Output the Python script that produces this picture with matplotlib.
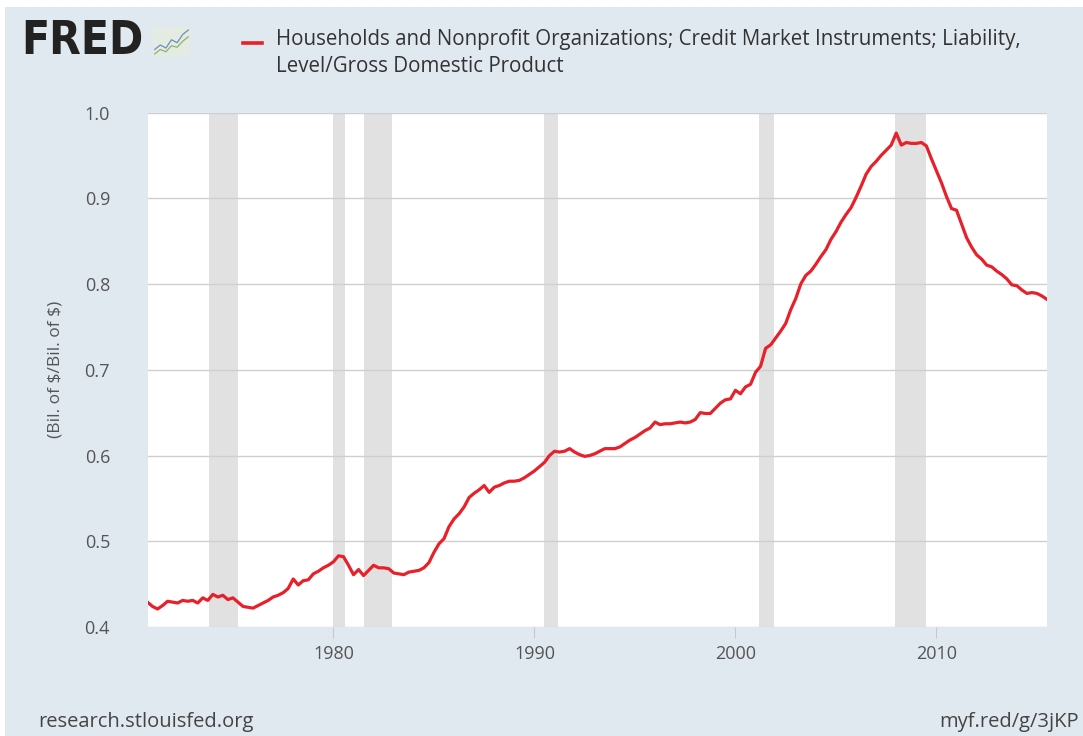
import matplotlib
matplotlib.use("Agg")
import matplotlib.pyplot as plt
from matplotlib.patches import Rectangle
import numpy as np

# --------------------------------------------------------------------------- #
# Data (quarterly), first point 1970 Q4
# --------------------------------------------------------------------------- #
start_year = 1970.75
ratio = [
    0.429,
    0.424, 0.421, 0.425, 0.430,   # 1971
    0.429, 0.428, 0.431, 0.430,   # 1972
    0.431, 0.428, 0.434, 0.431,   # 1973
    0.438, 0.435, 0.437, 0.432,   # 1974
    0.434, 0.429, 0.424, 0.423,   # 1975
    0.422, 0.425, 0.428, 0.431,   # 1976
    0.435, 0.437, 0.440, 0.445,   # 1977
    0.456, 0.449, 0.454, 0.455,   # 1978
    0.462, 0.465, 0.469, 0.472,   # 1979
    0.476, 0.483, 0.482, 0.472,   # 1980
    0.461, 0.467, 0.460, 0.466,   # 1981
    0.472, 0.469, 0.469, 0.468,   # 1982
    0.463, 0.462, 0.461, 0.464,   # 1983
    0.465, 0.466, 0.469, 0.475,   # 1984
    0.487, 0.497, 0.503, 0.517,   # 1985
    0.526, 0.532, 0.540, 0.551,   # 1986
    0.556, 0.560, 0.565, 0.557,   # 1987
    0.563, 0.565, 0.568, 0.570,   # 1988
    0.570, 0.571, 0.574, 0.578,   # 1989
    0.582, 0.587, 0.592, 0.600,   # 1990
    0.605, 0.604, 0.605, 0.608,   # 1991
    0.604, 0.601, 0.599, 0.600,   # 1992
    0.602, 0.605, 0.608, 0.608,   # 1993
    0.608, 0.610, 0.614, 0.618,   # 1994
    0.621, 0.625, 0.629, 0.632,   # 1995
    0.639, 0.636, 0.637, 0.637,   # 1996
    0.638, 0.639, 0.638, 0.639,   # 1997
    0.642, 0.650, 0.649, 0.649,   # 1998
    0.655, 0.661, 0.665, 0.666,   # 1999
    0.676, 0.672, 0.680, 0.683,   # 2000
    0.697, 0.704, 0.725, 0.729,   # 2001
    0.737, 0.745, 0.754, 0.770,   # 2002
    0.783, 0.800, 0.810, 0.815,   # 2003
    0.823, 0.832, 0.840, 0.852,   # 2004
    0.861, 0.872, 0.881, 0.889,   # 2005
    0.901, 0.914, 0.928, 0.937,   # 2006
    0.943, 0.950, 0.956, 0.962,   # 2007
    0.976, 0.962, 0.965, 0.964,   # 2008
    0.964, 0.965, 0.961, 0.946,   # 2009
    0.932, 0.918, 0.902, 0.888,   # 2010
    0.886, 0.870, 0.854, 0.843,   # 2011
    0.834, 0.829, 0.822, 0.820,   # 2012
    0.815, 0.811, 0.806, 0.799,   # 2013
    0.798, 0.793, 0.789, 0.790,   # 2014
    0.789, 0.786, 0.782,          # 2015
]
years = start_year + 0.25 * np.arange(len(ratio))

# NBER recessions (start, end) in decimal years
rec_start = [1973.83, 1980.0, 1981.5, 1990.5, 2001.17, 2007.92]
rec_end = [1975.25, 1980.58, 1982.92, 1991.17, 2001.92, 2009.5]

x_ticks = [1980, 1990, 2000, 2010]
y_ticks = [0.4, 0.5, 0.6, 0.7, 0.8, 0.9, 1.0]

series_label = ("Households and Nonprofit Organizations; Credit Market Instruments; Liability,\n"
                "Level/Gross Domestic Product")
units_label = r"(Bil. of \$/Bil. of \$)"

# --------------------------------------------------------------------------- #
# Figure
# --------------------------------------------------------------------------- #
BG = "#e1e9f0"
W, H = 1083, 736
plt.rcParams["font.family"] = ["Open Sans", "DejaVu Sans"]

fig = plt.figure(figsize=(W / 100, H / 100), dpi=100, facecolor="white")
# blue-grey panel with the thin white border top/left
fig.patches.append(Rectangle((5 / W, 0), 1, 1 - 7 / H, transform=fig.transFigure,
                             facecolor=BG, edgecolor="none", zorder=-10))

ax = fig.add_axes([147.5 / W, (H - 627) / H, (1047 - 147.5) / W, (627 - 112.5) / H])
ax.set_facecolor("white")

for s, e in zip(rec_start, rec_end):
    ax.axvspan(s, e, color="#e1e1e1", lw=0, zorder=1)

ax.plot(years, ratio, color="#e8202a", lw=2.3, zorder=3)

ax.set_xlim(start_year, years[-1])
ax.set_ylim(0.4, 1.0)
ax.set_yticks(y_ticks)
ax.set_yticklabels([f"{v:.1f}" for v in y_ticks])
ax.set_xticks(x_ticks)
ax.set_xticklabels([str(v) for v in x_ticks])
ax.grid(axis="y", color="#cfcfcf", lw=1.0, zorder=2)
ax.set_axisbelow(False)
for sp in ax.spines.values():
    sp.set_visible(False)
ax.tick_params(axis="y", length=0, pad=27, labelsize=13, labelcolor="#555555")
ax.tick_params(axis="x", length=8, width=0.8, color="#c8c8c8", pad=5,
               labelsize=13, labelcolor="#555555")
ax.set_ylabel(units_label, fontsize=12.5, color="#555555", labelpad=15)

# --------------------------------------------------------------------------- #
# Header: FRED logo + legend
# --------------------------------------------------------------------------- #
fig.text(21 / W, 1 - 42 / H, "FRED", fontsize=33, fontweight="heavy",
         fontstretch="condensed", family=["DejaVu Sans"], color="#222222",
         va="center", ha="left")
ic = fig.add_axes([153 / W, 1 - 57 / H, 37 / W, 30 / H])
ic.set_facecolor("#e4ebe2")
ic.plot([0, 1, 2, 3, 4, 5, 6], [1.0, 1.6, 1.2, 2.3, 1.9, 3.0, 3.6], color="#6a8fc0", lw=0.9)
ic.plot([0, 1, 2, 3, 4, 5, 6], [0.4, 1.0, 0.7, 1.5, 1.3, 2.1, 2.7], color="#8fb46a", lw=0.9)
ic.set_xlim(-0.3, 6.3)
ic.set_ylim(0, 4)
ic.set_xticks([])
ic.set_yticks([])
for sp in ic.spines.values():
    sp.set_visible(False)

fig.add_artist(plt.Line2D([243 / W, 262 / W], [1 - 43 / H, 1 - 43 / H],
                          transform=fig.transFigure, color="#e8202a", lw=2.6))
fig.text(276 / W, 1 - 29 / H, series_label, fontsize=14.8, color="#333333",
         va="top", ha="left", linespacing=1.35)

# --------------------------------------------------------------------------- #
# Footer
# --------------------------------------------------------------------------- #
fig.text(38 / W, 1 - 722 / H, "research.stlouisfed.org", fontsize=14.5,
         color="#444444", va="center", ha="left")
fig.text(1079 / W, 1 - 722 / H, "myf.red/g/3jKP", fontsize=14.5,
         color="#444444", va="center", ha="right")

fig.savefig("out.png", dpi=100, facecolor=fig.get_facecolor())
